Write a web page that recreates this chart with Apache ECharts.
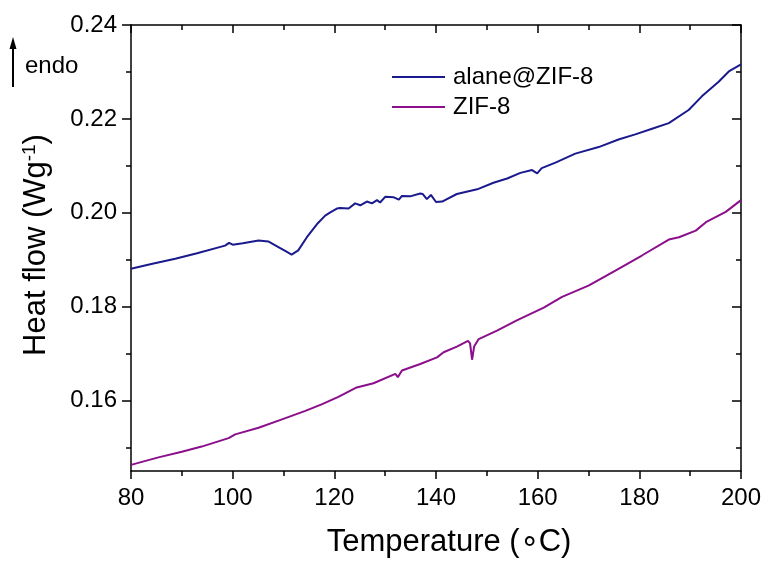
<!DOCTYPE html>
<html>
<head>
<meta charset="utf-8">
<script src="https://cdn.jsdelivr.net/npm/echarts@6/dist/echarts.min.js"></script>
<style>
html,body{margin:0;padding:0;background:#fff;}
#chart{width:765px;height:563px;}
</style>
</head>
<body>
<div id="chart"></div>
<script>
var alaneT = [80, 84, 88.7, 93, 98.5, 99.3, 100, 102, 105.1, 107, 109, 110.5, 111.6, 112.9, 114.6, 116.6, 118.2, 119.2, 120.5, 121.1, 122.8, 124.1, 125.1, 126.4, 127.4, 128.4, 129, 130, 131.7, 132.7, 133.3, 134.9, 136.9, 137.4, 138.2, 139, 140, 141.2, 144.1, 148.1, 151.3, 154, 156.6, 158.9, 159.9, 160.8, 163.5, 167.4, 172, 175.9, 179.2, 182.5, 185.8, 189.7, 192.3, 195.6, 197.6, 200];
var alaneV = [0.1881, 0.1891, 0.1902, 0.1914, 0.1930, 0.1936, 0.1932, 0.1935, 0.1941, 0.1939, 0.1927, 0.1918, 0.1911, 0.1920, 0.1948, 0.1976, 0.1994, 0.2001, 0.2009, 0.2010, 0.2009, 0.2020, 0.2016, 0.2024, 0.2020, 0.2027, 0.2022, 0.2034, 0.2033, 0.2028, 0.2036, 0.2035, 0.2041, 0.2040, 0.2029, 0.2038, 0.2023, 0.2024, 0.2040, 0.2050, 0.2064, 0.2073, 0.2085, 0.2091, 0.2084, 0.2095, 0.2107, 0.2126, 0.2140, 0.2156, 0.2167, 0.2179, 0.2191, 0.2219, 0.2248, 0.2279, 0.2301, 0.2316];
var zifT = [80, 85.4, 90, 93.9, 99.2, 100.5, 105.1, 109.7, 114.3, 117.5, 120.8, 124.4, 127.7, 132, 132.5, 133.3, 136.9, 140.2, 141.5, 144.1, 146.3, 146.7, 147.1, 147.5, 148.4, 152, 155.9, 161.2, 164.8, 170, 175.3, 180.5, 185.8, 187.8, 191.1, 193.1, 197, 200];
var zifV = [0.1463, 0.1479, 0.1491, 0.1502, 0.1520, 0.1528, 0.1542, 0.1560, 0.1578, 0.1592, 0.1608, 0.1628, 0.1637, 0.1657, 0.1650, 0.1664, 0.1678, 0.1692, 0.1703, 0.1715, 0.1727, 0.1722, 0.1687, 0.1715, 0.1731, 0.1749, 0.1771, 0.1798, 0.1821, 0.1845, 0.1877, 0.1909, 0.1943, 0.1948, 0.1962, 0.1980, 0.2002, 0.2027];
var seriesNames = ['alane@ZIF-8', 'ZIF-8'];
var yMajor = [0.16, 0.18, 0.20, 0.22, 0.24];
var yMinor = [0.15, 0.17, 0.19, 0.21, 0.23];
var xMin = 80, xMax = 200, xStep = 20;
var yMin = 0.145, yMax = 0.24;

var FONT = '"Liberation Sans", Arial, sans-serif';
function pairs(t, v){ return t.map(function(x,i){ return [x, v[i]]; }); }

var chart = echarts.init(document.getElementById('chart'));
var axisLineStyle = {color:'#000', width:1.5};
function yAx(pos, inside, values, len, labels, line){
  return {
    type:'value', position:pos, min:yMin, max:yMax, gridIndex:0,
    axisLine:{show:line, lineStyle:axisLineStyle},
    axisTick:{show:true, inside:inside, length:len, customValues:values, lineStyle:{color:'#000', width:1.5}},
    axisLabel:{show:labels, customValues:values, color:'#000', fontFamily:FONT, fontSize:24, margin:14,
      formatter:function(v){ return v.toFixed(2); }},
    splitLine:{show:false}
  };
}
var option = {
  animation:false,
  backgroundColor:'#fff',
  grid:{left:131, right:24, top:25, bottom:89, containLabel:false},
  xAxis:[
    {type:'value', position:'bottom', min:xMin, max:xMax, interval:xStep,
     axisLine:{show:true, lineStyle:axisLineStyle},
     axisTick:{show:true, inside:false, length:8, lineStyle:{color:'#000', width:1.5}},
     minorTick:{show:true, splitNumber:2, length:5, lineStyle:{color:'#000', width:1.5}},
     axisLabel:{color:'#000', fontFamily:FONT, fontSize:24, margin:15},
     splitLine:{show:false},
     name:'Temperature (\u2218C)', nameLocation:'middle', nameGap:56,
     nameTextStyle:{color:'#000', fontFamily:FONT, fontSize:31, padding:[0,0,0,26]}},
    {type:'value', position:'top', min:xMin, max:xMax, interval:xStep,
     axisLine:{show:true, lineStyle:axisLineStyle},
     axisTick:{show:true, inside:true, length:8, lineStyle:{color:'#000', width:1.5}},
     minorTick:{show:true, splitNumber:2, length:5, lineStyle:{color:'#000', width:1.5}},
     axisLabel:{show:false}, splitLine:{show:false}}
  ],
  yAxis:[
    Object.assign(yAx('left', false, yMajor, 9, true, true), {
      name:'Heat flow (Wg{sup|-1})', nameLocation:'middle', nameGap:78, nameRotate:90,
      nameTextStyle:{color:'#000', fontFamily:FONT, fontSize:31, padding:[0,0,0,6],
        rich:{sup:{fontSize:19, fontFamily:FONT, color:'#000', verticalAlign:'top', padding:[0,0,14,0]}}}
    }),
    yAx('left', false, yMinor, 5, false, false),
    yAx('right', true, yMajor, 9, false, true),
    yAx('right', true, yMinor, 5, false, false)
  ],
  legend:{
    orient:'vertical', left:387, top:60, itemWidth:53, itemHeight:2, itemGap:6,
    icon:'rect',
    textStyle:{color:'#000', fontFamily:FONT, fontSize:24, lineHeight:24, padding:[0,0,0,3]},
    data:seriesNames
  },
  graphic:[
    {type:'line', shape:{x1:13, y1:87, x2:13, y2:48}, style:{stroke:'#000', lineWidth:2}},
    {type:'polygon', shape:{points:[[13,37],[9.5,49],[16.5,49]]}, style:{fill:'#000'}},
    {type:'text', left:25, top:54, style:{text:'endo', fill:'#000', font:'24px ' + FONT}}
  ],
  series:[
    {name:seriesNames[0], type:'line', xAxisIndex:0, yAxisIndex:0, data:pairs(alaneT, alaneV),
     symbol:'none', lineStyle:{color:'#1a1a8e', width:2}, itemStyle:{color:'#1a1a8e'}},
    {name:seriesNames[1], type:'line', xAxisIndex:0, yAxisIndex:0, data:pairs(zifT, zifV),
     symbol:'none', lineStyle:{color:'#8b0e8b', width:2}, itemStyle:{color:'#8b0e8b'}}
  ]
};
chart.setOption(option);
</script>
</body>
</html>
